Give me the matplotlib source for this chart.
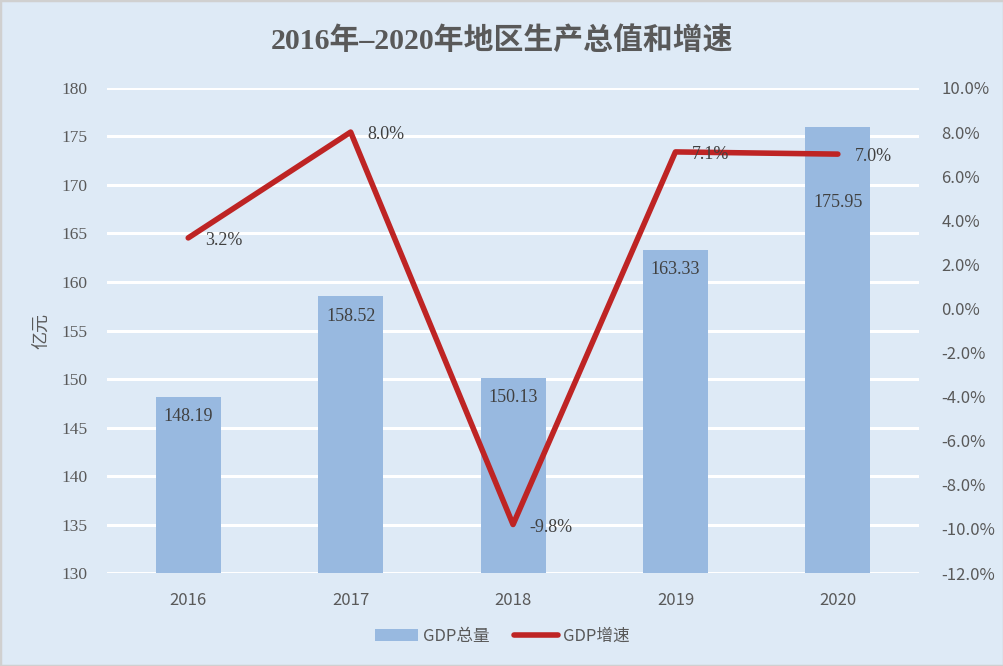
import matplotlib
matplotlib.use("Agg")
import matplotlib.pyplot as plt
from matplotlib.ticker import FuncFormatter, MultipleLocator

years = ["2016", "2017", "2018", "2019", "2020"]
gdp_total = [148.19, 158.52, 150.13, 163.33, 175.95]
gdp_growth = [3.2, 8.0, -9.8, 7.1, 7.0]
gdp_label_offsets = [-20, -20, -20, -20, -75]  # px below bar top

BG = "#DEEAF6"
BAR = "#98B9E0"
LINE = "#BE2424"
TXT = "#595959"
SERIF = ["Liberation Serif", "Noto Sans CJK SC"]
SANS = ["Noto Sans CJK SC", "DejaVu Sans"]

fig = plt.figure(figsize=(10.04, 6.66), dpi=100, facecolor=BG)
fig.patches.append(plt.Rectangle((0, 0), 1, 1, transform=fig.transFigure,
                                 fill=False, edgecolor="#D0D0D0", lw=2.5))
ax = fig.add_axes([0.1066, 0.1396, 0.8088, 0.7283])
ax.set_facecolor(BG)
x = list(range(len(years)))
bars = ax.bar(x, gdp_total, width=0.4, color=BAR, zorder=2, label="GDP总量")
ax.set_ylim(130, 180)
ax.set_xlim(-0.5, len(years) - 0.5)
ax.yaxis.set_major_locator(MultipleLocator(5))
ax.grid(axis="y", color="white", lw=2.2, zorder=1)
ax.set_axisbelow(True)
for s in ax.spines.values():
    s.set_visible(False)
ax.tick_params(length=0)
ax.tick_params(axis="y", pad=14, labelsize=12.5, labelcolor=TXT)
ax.tick_params(axis="x", pad=14, labelsize=12, labelcolor=TXT)
ax.set_xticks(x)
ax.set_xticklabels(years, family=SANS)
for lab in ax.get_yticklabels():
    lab.set_family(SERIF)
ax.set_ylabel("亿元", family=SANS, fontsize=13, color=TXT, labelpad=8)

for xi, v, off in zip(x, gdp_total, gdp_label_offsets):
    ax.annotate(f"{v:.2f}", (xi, v), xytext=(0, off * 0.72), textcoords="offset points",
                ha="center", va="center", family=SERIF, fontsize=13, color="#404040", zorder=5)

ax2 = ax.twinx()
ax2.set_ylim(-12, 10)
ax2.yaxis.set_major_locator(MultipleLocator(2))
ax2.yaxis.set_major_formatter(FuncFormatter(lambda v, p: f"{v:.1f}%"))
for s in ax2.spines.values():
    s.set_visible(False)
ax2.tick_params(length=0, pad=16, labelsize=12, labelcolor=TXT)
for lab in ax2.get_yticklabels():
    lab.set_family(SANS)
line, = ax2.plot(x, gdp_growth, color=LINE, lw=4, solid_capstyle="round", zorder=3, label="GDP增速")
for xi, v in zip(x, gdp_growth):
    ax2.annotate(f"{v:.1f}%", (xi, v), xytext=(12, -2), textcoords="offset points",
                 ha="left", va="center", family=SERIF, fontsize=13, color="#404040", zorder=5)

fig.text(0.5, 0.94, "2016年–2020年地区生产总值和增速", ha="center", va="center",
         family=SERIF, fontsize=21.5, fontweight="bold", color=TXT)

leg = fig.legend([bars, line], ["GDP总量", "GDP增速"], loc="center", bbox_to_anchor=(0.5, 0.045),
                 ncol=2, frameon=False, prop={"family": SANS, "size": 12},
                 handlelength=2.6, columnspacing=1.5, handletextpad=0.3)
for t in leg.get_texts():
    t.set_color(TXT)

fig.savefig("out.png", dpi=100, facecolor=BG)
